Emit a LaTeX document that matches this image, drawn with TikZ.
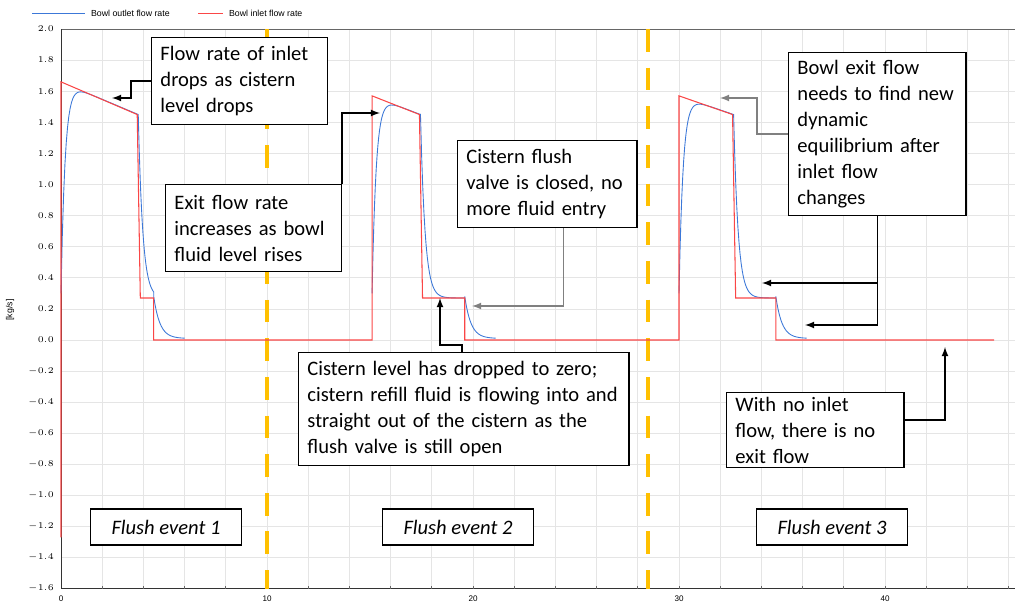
\documentclass[tikz,border=0pt]{standalone}
\usepackage{fontspec}
\setmainfont{Carlito}
\newfontfamily\axisfont{Liberation Sans}
\usetikzlibrary{arrows, positioning}
\definecolor{outletblue}{RGB}{60,120,216}
\definecolor{inletred}{RGB}{250,70,70}
\definecolor{eventorange}{RGB}{255,192,0}
\tikzset{
  note/.style={rectangle, draw=black, thick, fill=white, align=left, inner xsep=5pt, inner ysep=0pt, text width=#1, font=\fontsize{11.7}{14.7}\selectfont},
  event/.style={rectangle, draw=black, thick, fill=white, minimum width=3.02cm, minimum height=0.72cm, font=\fontsize{11.7}{14}\selectfont\itshape},
  arrow/.style={thick,-latex},
  greyarrow/.style={thick,-latex,draw=gray},
  outlet/.style={outletblue, line width=0.5pt},
  inlet/.style={inletred, line width=0.6pt},
  ticklab/.style={font=\axisfont\fontsize{4.6}{5}\selectfont, inner sep=1pt}
}
\newcommand{\bluepulse}[4]{% start, fall, flat end, peak
  \draw[outlet] plot[domain=#1:#2, samples=60]
      (\x, {-((#4-(#4-1.45)*(\x-#1)/(#2-#1)) - ((#4-(#4-1.45)*(\x-#1)/(#2-#1))-0.3)*exp(-(\x-#1)/0.2))})
    -- plot[domain=#2:#3, samples=40] (\x, {-(0.27+1.18*exp(-(\x-#2)/0.22))})
    -- plot[domain=#3:#3+1.5, samples=30] (\x, {-(0.01+0.27*exp(-(\x-#3)/0.3))});
}
\begin{document}
\begin{tikzpicture}[x=0.02cm, y=-0.02cm]
\useasboundingbox (0,0) rectangle (1024,611);
% grid and frame, data units
\begin{scope}[shift={(61,340)}, xscale=20.6, yscale=155.5]
  \foreach \gx in {2,4,...,46}
    \draw[black!10] (\gx,-2) -- (\gx,1.6);
  \foreach \gy in {-1.4,-1.2,...,2.01}
    \draw[black!10] (0,-\gy) -- (46.3,-\gy);
  \draw[black!60] (0,-2) -- (46.3,-2);
  \draw[black!80] (0,1.6) -- (0,-2);
  \draw[black!80] (0,1.6) -- (46.3,1.6);
  \foreach \gy in {-1.6,-1.4,...,2.01}
    \node[ticklab, left] at (-0.25,-\gy) {\pgfmathprintnumber[fixed,precision=1,fixed zerofill]{\gy}};
  \foreach \gx in {0,10,...,40}
    \node[ticklab, below] at (\gx,1.63) {\gx};
  \foreach \gx in {2,4,...,46}
    \draw[black!60] (\gx,1.6) -- (\gx,1.58);
  % event separators
  \draw[eventorange, line width=2.6pt, dash pattern=on 13pt off 9pt] (10,-2) -- (10,1.6);
  \draw[eventorange, line width=2.6pt, dash pattern=on 13pt off 9pt] (28.5,-2) -- (28.5,1.6);
  % curves
  \bluepulse{0}{3.75}{4.5}{1.66}
  \bluepulse{15.1}{17.45}{19.6}{1.57}
  \bluepulse{30}{32.65}{34.7}{1.57}
  \draw[inlet] (0,1.27) -- (0,-1.66) -- (3.7,-1.45) -- (3.85,-0.27) -- (4.5,-0.27) -- (4.5,0)
    -- (15.1,0) -- (15.1,-1.57) -- (17.4,-1.45) -- (17.55,-0.27) -- (19.6,-0.27) -- (19.6,0)
    -- (30,0) -- (30,-1.57) -- (32.6,-1.45) -- (32.75,-0.27) -- (34.7,-0.27) -- (34.7,0) -- (45.3,0);
\end{scope}
% legend
\draw[outletblue] (32,13) -- (85,13);
\node[ticklab, anchor=west, font=\axisfont\fontsize{5}{6}\selectfont] (leg1) at (89,13) {Bowl outlet flow rate};
\draw[inletred] (198,13) -- (223,13);
\node[ticklab, anchor=west, font=\axisfont\fontsize{5}{6}\selectfont] (leg2) at (227,13) {Bowl inlet flow rate};
\node[ticklab, rotate=90, font=\axisfont\fontsize{5}{6}\selectfont] (unit) at (10,310) {[kg/s]};
% annotations
\node[note=90pt, minimum height=1.74cm, anchor=north west] (inletdrop) at (151,37) {Flow rate of inlet\\drops as cistern\\level drops};
\node[note=90pt, minimum height=1.74cm, anchor=north west] (exitrise) at (165,184) {Exit flow rate\\increases as bowl\\fluid level rises};
\node[note=92pt, minimum height=1.74cm, anchor=north west] (valveshut) at (457,140) {Cistern flush\\valve is closed, no\\more fluid entry};
\node[note=178pt, minimum height=2.26cm, anchor=north west] (refill) at (298,352) {Cistern level has dropped to zero;\\cistern refill fluid is flowing into and\\straight out of the cistern as the\\flush valve is still open};
\node[note=91pt, minimum height=3.26cm, anchor=north west] (equil) at (788,52) {Bowl exit flow\\needs to find new\\dynamic\\equilibrium after\\inlet flow\\changes};
\node[note=91pt, minimum height=1.5cm, anchor=north west] (noflow) at (726,392) {With no inlet\\flow, there is no\\exit flow};
\node[event] (ev1) at (166,527) {Flush event 1};
\node[event] (ev2) at (458,527) {Flush event 2};
\node[event] (ev3) at (832,527) {Flush event 3};
% connectors
\coordinate (p1) at (112,98);
\coordinate (p2) at (380,113);
\coordinate (p3) at (472,306);
\coordinate (p4) at (440,298);
\coordinate (p5) at (720,98);
\coordinate (p6) at (762,283);
\coordinate (p7) at (805,325);
\coordinate (p8) at (945,347);
\draw[arrow] (inletdrop.west) -| (131,98) -- (p1);
\draw[arrow] (exitrise.north east) |- (p2);
\draw[greyarrow] (valveshut.south) ++(16,0) |- (p3);
\draw[arrow] (refill.north west) ++(164,0) -- ++(0,-7) -| (p4);
\draw[greyarrow] (equil.west) -| (757,98) -- (p5);
\draw[arrow] (equil.south) |- (p6);
\draw[arrow] (equil.south) |- (p7);
\draw[arrow] (noflow.east) ++(0,-10) -| (p8);
\end{tikzpicture}
\end{document}
